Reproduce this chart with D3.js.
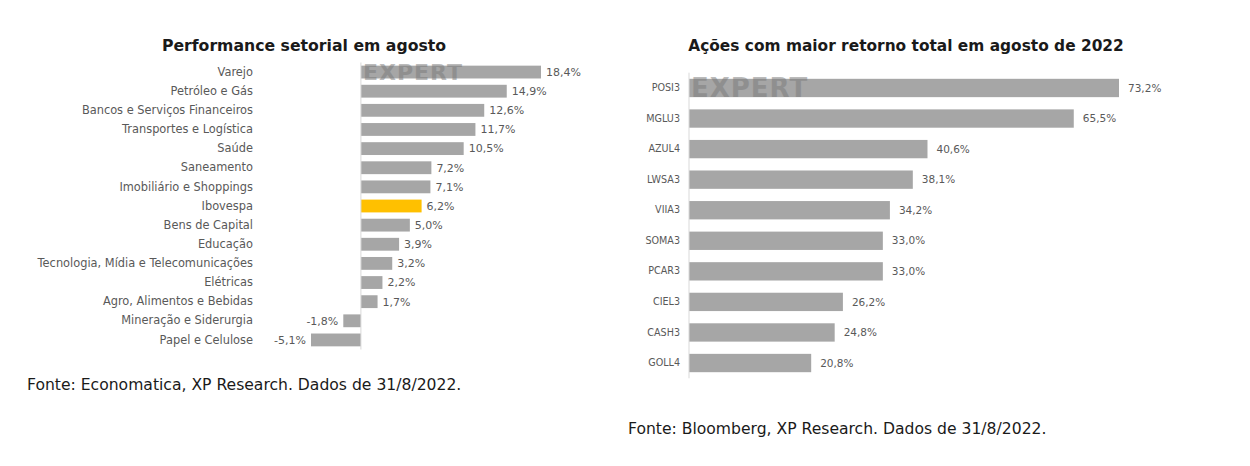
<!DOCTYPE html>
<html>
<head>
<meta charset="utf-8">
<script src="https://cdn.jsdelivr.net/npm/d3@7"></script>
<style>
  body { margin: 0; background: #fff; }
  svg { display: block; }
  text { font-family: "DejaVu Sans", sans-serif; }
</style>
</head>
<body>
<svg id="chart" width="1250" height="466"></svg>
<script>
const sectorCategories = ["Varejo","Petróleo e Gás","Bancos e Serviços Financeiros","Transportes e Logística","Saúde","Saneamento","Imobiliário e Shoppings","Ibovespa","Bens de Capital","Educação","Tecnologia, Mídia e Telecomunicações","Elétricas","Agro, Alimentos e Bebidas","Mineração e Siderurgia","Papel e Celulose"];
const sectorValues = [18.4,14.9,12.6,11.7,10.5,7.2,7.1,6.2,5.0,3.9,3.2,2.2,1.7,-1.8,-5.1];
const sectorHighlight = "Ibovespa";

const stockCategories = ["POSI3","MGLU3","AZUL4","LWSA3","VIIA3","SOMA3","PCAR3","CIEL3","CASH3","GOLL4"];
const stockValues = [73.2,65.5,40.6,38.1,34.2,33.0,33.0,26.2,24.8,20.8];

const leftTitle = "Performance setorial em agosto";
const rightTitle = "Ações com maior retorno total em agosto de 2022";
const leftSource = "Fonte: Economatica, XP Research. Dados de 31/8/2022.";
const rightSource = "Fonte: Bloomberg, XP Research. Dados de 31/8/2022.";

const svg = d3.select("#chart");
const fmt = v => (v < 0 ? "-" : "") + d3.format(".1f")(Math.abs(v)).replace(".", ",") + "%";
const barColor = "#a6a6a6", hiColor = "#ffc000", labelColor = "#595959", axisColor = "#d9d9d9";

function drawChart(cfg) {
  const data = cfg.cats.map((c, i) => ({ c, v: cfg.vals[i] }));
  const x = d3.scaleLinear().domain(cfg.xDomain).range(cfg.xRange);
  const y = d3.scaleBand().domain(cfg.cats).range(cfg.yRange).paddingInner(cfg.pad).paddingOuter(cfg.pad / 2);
  const g = svg.append("g");

  g.selectAll("rect.bar").data(data).join("rect")
    .attr("class", "bar")
    .attr("x", d => x(Math.min(0, d.v)))
    .attr("y", d => y(d.c))
    .attr("width", d => Math.abs(x(d.v) - x(0)))
    .attr("height", y.bandwidth())
    .attr("fill", d => d.c === cfg.hi ? hiColor : barColor);

  // watermark
  g.append("text")
    .attr("x", x(0) + cfg.wmDx).attr("y", y(cfg.cats[0]) + y.bandwidth() * 0.5 + cfg.wmSize * 0.36)
    .attr("font-size", cfg.wmSize).attr("font-weight", 700).attr("fill", "#7a7a7a").attr("opacity", 0.5)
    .attr("font-family", "'Liberation Sans', sans-serif")
    .attr("letter-spacing", 1)
    .text("EXPERT");

  g.append("line")
    .attr("x1", x(0)).attr("x2", x(0))
    .attr("y1", cfg.yRange[0]).attr("y2", cfg.yRange[1])
    .attr("stroke", axisColor).attr("stroke-width", 1);

  const yAxis = d3.axisLeft(y).tickSize(0).tickPadding(0);
  const ya = g.append("g").attr("transform", `translate(${cfg.labelX},0)`).call(yAxis);
  ya.select(".domain").remove();
  ya.selectAll("text").attr("fill", labelColor).attr("font-size", cfg.catFs)
    .attr("font-family", "'DejaVu Sans', sans-serif");

  g.selectAll("text.val").data(data).join("text")
    .attr("class", "val")
    .attr("x", d => d.v >= 0 ? x(d.v) + cfg.valGap : x(d.v) - cfg.valGap)
    .attr("y", d => y(d.c) + y.bandwidth() / 2)
    .attr("dy", "0.35em")
    .attr("text-anchor", d => d.v >= 0 ? "start" : "end")
    .attr("fill", labelColor).attr("font-size", cfg.valFs)
    .text(d => fmt(d.v));

  g.append("text")
    .attr("x", cfg.titleX).attr("y", cfg.titleY)
    .attr("text-anchor", "middle")
    .attr("font-size", cfg.titleFs).attr("font-weight", 600).attr("fill", "#1a1a1a")
    .text(cfg.title);

  g.append("text")
    .attr("x", cfg.srcX).attr("y", cfg.srcY)
    .attr("font-size", 15.6).attr("fill", "#1a1a1a")
    .text(cfg.src);
}

drawChart({
  cats: sectorCategories, vals: sectorValues, hi: sectorHighlight,
  xDomain: [-5.1, 18.4], xRange: [311, 541],
  yRange: [62.5, 349.5], pad: 0.33, labelX: 253, catFs: 11.4, valFs: 11, valGap: 5,
  title: leftTitle, titleX: 304, titleY: 51, titleFs: 15.7,
  src: leftSource, srcX: 27, srcY: 390,
  wmDx: 2, wmSize: 22
});

drawChart({
  cats: stockCategories, vals: stockValues, hi: null,
  xDomain: [0, 73.2], xRange: [689, 1119],
  yRange: [72.7, 378.3], pad: 0.4, labelX: 680, catFs: 9.6, valFs: 10.5, valGap: 9,
  title: rightTitle, titleX: 906, titleY: 51, titleFs: 15.4,
  src: rightSource, srcX: 628, srcY: 434,
  wmDx: 2, wmSize: 26
});
</script>
</body>
</html>
